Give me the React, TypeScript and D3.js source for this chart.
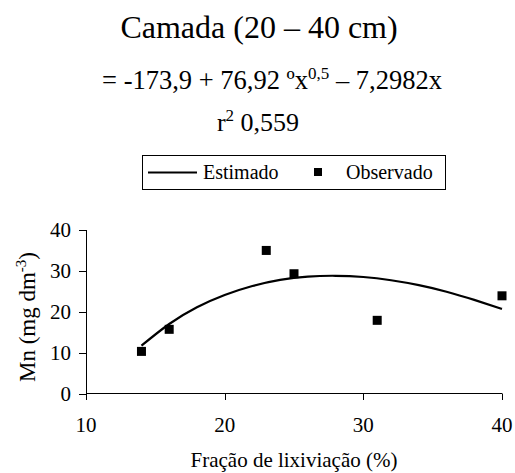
import React from "react";
import * as d3 from "d3";

// Observed Mn in the 20–40 cm layer
const fracao = [14, 16, 23, 25, 31, 40];
const mnObservado = [10.3, 15.7, 35.0, 29.3, 17.9, 23.9];

// Fitted curve sampled along the leaching fraction range
const fracaoEstimado = [14, 16, 18, 20, 22, 24, 26, 28, 30, 32, 34, 36, 38, 40];
const mnEstimado = [11.7, 17.0, 21.1, 24.1, 26.3, 27.8, 28.6, 28.8, 28.5, 27.7, 26.5, 24.9, 22.9, 20.7];

const xTicks = [10, 20, 30, 40];
const yTicks = [0, 10, 20, 30, 40];

const W = 515;
const H = 473;
const FONT = "Liberation Serif";

function T(props: any) {
  const { children, ...rest } = props;
  return (
    <text fill="#000" style={{ fontFamily: FONT }} {...rest}>
      {children}
    </text>
  );
}

export default function App() {
  const x = d3.scaleLinear().domain([10, 40]).range([86, 502]);
  const y = d3.scaleLinear().domain([0, 40]).range([393.5, 230]);

  const line = d3
    .line<number>()
    .x((_, i) => x(fracaoEstimado[i]))
    .y((d) => y(d))
    .curve(d3.curveNatural);

  const sq = 9;

  return (
    <svg
      width={W}
      height={H}
      style={{ position: "absolute", left: 0, top: 0, background: "#fff" }}
    >
      <rect width={W} height={H} fill="#fff" />

      {/* Titles */}
      <T x={259} y={38} fontSize={32} textAnchor="middle">
        Camada (20 – 40 cm)
      </T>
      <T x={272} y={89} fontSize={26.5} textAnchor="middle">
        = -173,9 + 76,92 ºx
        <tspan dy={-10} fontSize={17}>0,5</tspan>
        <tspan dy={10}> – 7,2982x</tspan>
      </T>
      <T x={258} y={131} fontSize={26} textAnchor="middle">
        r<tspan dy={-10} fontSize={17}>2</tspan>
        <tspan dy={10}> 0,559</tspan>
      </T>

      {/* Legend */}
      <rect x={142.5} y={155.5} width={303} height={34} fill="#fff" stroke="#000" strokeWidth={1} />
      <line x1={148} x2={197} y1={172.5} y2={172.5} stroke="#000" strokeWidth={2} />
      <T x={203} y={179} fontSize={20}>Estimado</T>
      <rect x={314} y={168} width={8} height={8} fill="#000" />
      <T x={346} y={179} fontSize={20}>Observado</T>

      {/* Y axis */}
      <line x1={86.5} x2={86.5} y1={y(40)} y2={y(0)} stroke="#000" strokeWidth={1} />
      {yTicks.map((t) => (
        <g key={"y" + t}>
          <line x1={79} x2={86.5} y1={Math.round(y(t)) + 0.5} y2={Math.round(y(t)) + 0.5} stroke="#000" />
          <T x={71} y={y(t) + 7} fontSize={21} textAnchor="end">
            {t}
          </T>
        </g>
      ))}

      {/* X axis */}
      <line x1={x(10)} x2={x(40)} y1={393.5} y2={393.5} stroke="#000" strokeWidth={1} />
      {xTicks.map((t) => (
        <g key={"x" + t}>
          <line x1={Math.round(x(t)) + 0.5} x2={Math.round(x(t)) + 0.5} y1={393.5} y2={400} stroke="#000" />
          <T x={x(t)} y={432} fontSize={21} textAnchor="middle">
            {t}
          </T>
        </g>
      ))}

      {/* Axis titles */}
      <T x={294} y={467} fontSize={21} textAnchor="middle">
        Fração de lixiviação (%)
      </T>
      <T transform="translate(35,317) rotate(-90)" fontSize={23} textAnchor="middle">
        Mn (mg dm<tspan dy={-9} fontSize={15}>-3</tspan>
        <tspan dy={9}>)</tspan>
      </T>

      {/* Fitted curve */}
      <path d={line(mnEstimado) ?? ""} fill="none" stroke="#000" strokeWidth={2.2} />

      {/* Observed points */}
      {fracao.map((f, i) => (
        <rect
          key={"p" + i}
          x={x(f) - sq / 2}
          y={y(mnObservado[i]) - sq / 2}
          width={sq}
          height={sq}
          fill="#000"
        />
      ))}
    </svg>
  );
}
